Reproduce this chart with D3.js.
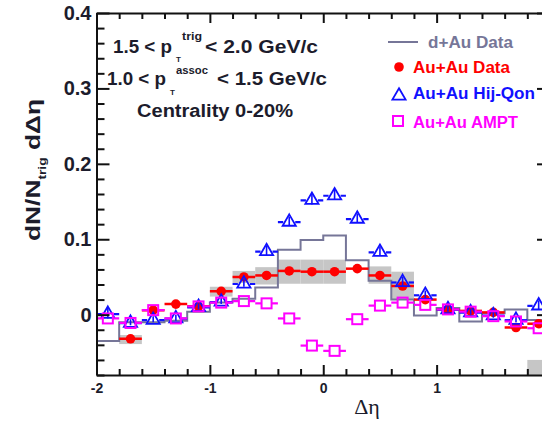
<!DOCTYPE html>
<html><head><meta charset="utf-8">
<script src="https://cdn.jsdelivr.net/npm/d3@7"></script>
<style>
html,body{margin:0;padding:0;background:#fff;overflow:hidden;}
svg{display:block;font-family:"Liberation Sans",Arial,sans-serif;}
</style></head>
<body><svg id="chart" width="542" height="421"></svg>
<script>
// ---- data ----
const binCenters = [-1.9,-1.7,-1.5,-1.3,-1.1,-0.9,-0.7,-0.5,-0.3,-0.1,0.1,0.3,0.5,0.7,0.9,1.1,1.3,1.5,1.7,1.9];
const binHalfWidth = 0.1;
const auauData = [null,-0.032,0.006,0.014,0.011,0.031,0.050,0.052,0.058,0.057,0.057,0.061,0.052,0.038,0.020,0.007,0.005,0.003,-0.017,-0.012];
const auauSysLow  = [null,-0.039,null,null,null,0.024,0.042,0.040,0.041,0.041,0.041,null,0.041,0.020,null,null,null,null,null,null];
const auauSysHigh = [null,-0.027,null,null,null,0.037,0.058,0.063,0.073,0.073,0.073,null,0.064,0.057,null,null,null,null,null,null];
const hijQon = [0.002,-0.010,-0.006,-0.004,0.011,0.018,0.042,0.085,0.124,0.153,0.159,0.128,0.084,0.044,0.027,0.008,0.004,0.000,-0.006,0.013];
const hijQonErr = [0.007,0.004,0.004,0.004,0.004,0.004,0.005,0.006,0.006,0.007,0.007,0.006,0.006,0.006,0.005,0.004,0.004,0.004,0.004,0.006];
const ampt = [-0.005,-0.011,0.006,-0.005,0.011,0.016,0.018,0.015,-0.005,-0.041,-0.048,-0.006,0.012,0.016,0.013,0.007,0.004,-0.002,-0.009,-0.018];
const dAu = [-0.035,-0.010,-0.010,-0.008,0.004,0.016,0.021,0.036,0.086,0.099,0.105,0.072,0.045,0.020,-0.001,0.009,-0.009,0.002,0.007,-0.007];
const scaleBoxX = [1.8, 2.0];
const scaleBoxY = [-0.08, -0.06];
const xMajorTicks = [-2,-1,0,1,2];
const xTickLabels = ["-2","-1","0","1",""];
const yMajorTicks = [0,0.1,0.2,0.3,0.4];
const yTickLabels = ["0","0.1","0.2","0.3","0.4"];
const legendLabels = ["d+Au Data","Au+Au Data","Au+Au Hij-Qon","Au+Au AMPT"];

// ---- layout ----
const svg = d3.select("#chart");
const X0 = 96.5, X1 = 550, Y0 = 375, Y1 = 13;
const x = d3.scaleLinear().domain([-2,2]).range([X0,X1]);
const y = d3.scaleLinear().domain([-0.08,0.4]).range([Y0,Y1]);
const RED="#ff0000", BLUE="#1010ff", MAG="#ff00ff", GRAYL="#767698", BOX="#c6c6c6", INK="#1c1c2c";

svg.append("defs").append("clipPath").attr("id","plotclip")
  .append("rect").attr("x",X0).attr("y",Y1).attr("width",X1-X0).attr("height",Y0-Y1);
const plot = svg.append("g").attr("clip-path","url(#plotclip)");

// systematic boxes
binCenters.forEach((c,i)=>{
  if(auauSysLow[i]==null) return;
  plot.append("rect").attr("x",x(c-binHalfWidth)).attr("width",x(c+binHalfWidth)-x(c-binHalfWidth))
    .attr("y",y(auauSysHigh[i])).attr("height",y(auauSysLow[i])-y(auauSysHigh[i])).attr("fill",BOX);
});
plot.append("rect").attr("x",x(scaleBoxX[0])).attr("width",x(scaleBoxX[1])-x(scaleBoxX[0]))
  .attr("y",y(scaleBoxY[1])).attr("height",y(scaleBoxY[0])-y(scaleBoxY[1])).attr("fill",BOX);

// d+Au step histogram
const stepPts = binCenters.map((c,i)=>[c-binHalfWidth,dAu[i]]);
stepPts.push([binCenters[binCenters.length-1]+binHalfWidth, dAu[dAu.length-1]]);
plot.append("path").datum(stepPts)
  .attr("d", d3.line().x(d=>x(d[0])).y(d=>y(d[1])).curve(d3.curveStepAfter))
  .attr("fill","none").attr("stroke",GRAYL).attr("stroke-width",2);

// Au+Au data (red)
const redG = plot.append("g");
binCenters.forEach((c,i)=>{
  const v = auauData[i]; if(v==null) return;
  redG.append("line").attr("x1",x(c-binHalfWidth)).attr("x2",x(c+binHalfWidth)).attr("y1",y(v)).attr("y2",y(v))
    .attr("stroke",RED).attr("stroke-width",2.5);
  redG.append("circle").attr("cx",x(c)).attr("cy",y(v)).attr("r",4.8).attr("fill",RED);
});

// Hij-Qon (blue open triangles)
const triPath = (s)=>`M0,${-s*0.62}L${s*0.6},${s*0.42}L${-s*0.6},${s*0.42}Z`;
const blueG = plot.append("g");
binCenters.forEach((c,i)=>{
  const v = hijQon[i], cx=x(c), cy=y(v);
  blueG.append("line").attr("x1",x(c-binHalfWidth)).attr("x2",cx-6).attr("y1",cy+1).attr("y2",cy+1).attr("stroke",BLUE).attr("stroke-width",2.2);
  blueG.append("line").attr("x1",cx+6).attr("x2",x(c+binHalfWidth)).attr("y1",cy+1).attr("y2",cy+1).attr("stroke",BLUE).attr("stroke-width",2.2);
  blueG.append("line").attr("x1",cx).attr("x2",cx).attr("y1",y(v+hijQonErr[i])).attr("y2",y(v-hijQonErr[i])).attr("stroke",BLUE).attr("stroke-width",1.6);
  blueG.append("path").attr("d",triPath(11)).attr("transform",`translate(${cx},${cy})`)
    .attr("fill","none").attr("stroke",BLUE).attr("stroke-width",1.8);
});

// AMPT (magenta open squares)
const magG = plot.append("g");
binCenters.forEach((c,i)=>{
  const v = ampt[i], cx=x(c), cy=y(v), h=5;
  magG.append("line").attr("x1",x(c-binHalfWidth)).attr("x2",cx-h).attr("y1",cy).attr("y2",cy).attr("stroke",MAG).attr("stroke-width",2.2);
  magG.append("line").attr("x1",cx+h).attr("x2",x(c+binHalfWidth)).attr("y1",cy).attr("y2",cy).attr("stroke",MAG).attr("stroke-width",2.2);
  magG.append("rect").attr("x",cx-h).attr("y",cy-h).attr("width",2*h).attr("height",2*h)
    .attr("fill","none").attr("stroke",MAG).attr("stroke-width",2);
});

// ---- axes (ticks inward) ----
const xMinor = d3.range(-2,2.001,0.2).map(d=>+d.toFixed(2)).filter(d=>!xMajorTicks.some(t=>Math.abs(t-d)<1e-6));
const yMinor = d3.range(-0.08,0.4001,0.02).map(d=>+d.toFixed(3)).filter(d=>!yMajorTicks.some(t=>Math.abs(t-d)<1e-6));
const fmtX = d=> xTickLabels[xMajorTicks.indexOf(d)];
const fmtY = d=> yTickLabels[yMajorTicks.indexOf(d)];

function styleAxis(g){ g.selectAll("path,line").attr("stroke","#111").attr("stroke-width",2); }

// bottom
svg.append("g").attr("transform",`translate(0,${Y0})`)
  .call(d3.axisBottom(x).tickValues(xMajorTicks).tickSize(-10).tickSizeOuter(0).tickPadding(8).tickFormat(fmtX))
  .call(styleAxis)
  .call(g=>g.selectAll("text").attr("font-size",14).attr("font-weight","bold").attr("fill",INK));
svg.append("g").attr("transform",`translate(0,${Y0})`)
  .call(d3.axisBottom(x).tickValues(xMinor).tickSize(-6).tickSizeOuter(0).tickFormat(""))
  .call(styleAxis).call(g=>g.select(".domain").remove());
// top
svg.append("g").attr("transform",`translate(0,${Y1})`)
  .call(d3.axisTop(x).tickValues(xMajorTicks).tickSize(-10).tickSizeOuter(0).tickFormat(""))
  .call(styleAxis);
svg.append("g").attr("transform",`translate(0,${Y1})`)
  .call(d3.axisTop(x).tickValues(xMinor).tickSize(-6).tickSizeOuter(0).tickFormat(""))
  .call(styleAxis).call(g=>g.select(".domain").remove());
// left
svg.append("g").attr("transform",`translate(${X0},0)`)
  .call(d3.axisLeft(y).tickValues(yMajorTicks).tickSize(-13).tickSizeOuter(0).tickPadding(5).tickFormat(fmtY))
  .call(styleAxis)
  .call(g=>g.selectAll("text").attr("font-size",20).attr("font-weight","bold").attr("fill",INK));
svg.append("g").attr("transform",`translate(${X0},0)`)
  .call(d3.axisLeft(y).tickValues(yMinor).tickSize(-8).tickSizeOuter(0).tickFormat(""))
  .call(styleAxis).call(g=>g.select(".domain").remove());
// right
svg.append("g").attr("transform",`translate(${X1},0)`)
  .call(d3.axisRight(y).tickValues(yMajorTicks).tickSize(-13).tickSizeOuter(0).tickFormat(""))
  .call(styleAxis);
svg.append("g").attr("transform",`translate(${X1},0)`)
  .call(d3.axisRight(y).tickValues(yMinor).tickSize(-8).tickSizeOuter(0).tickFormat(""))
  .call(styleAxis).call(g=>g.select(".domain").remove());

// axis titles
svg.append("text").attr("x",367).attr("y",414).attr("text-anchor","middle")
  .attr("font-family","'Liberation Serif','DejaVu Serif',serif").attr("font-size",22).attr("fill",INK).text("Δη");
const yl = svg.append("text").attr("transform","translate(40,170) rotate(-90)").attr("text-anchor","middle")
  .attr("font-size",21).attr("font-weight","bold").attr("fill",INK)
  .attr("textLength",142).attr("lengthAdjust","spacingAndGlyphs");
yl.append("tspan").text("dN/N");
yl.append("tspan").attr("font-size",11).attr("dy",6).text("trig");
yl.append("tspan").attr("dy",-6).text(" dΔη");

// annotations
function txt(xp,yp,s,size,len){
  const t = svg.append("text").attr("x",xp).attr("y",yp).attr("font-size",size).attr("font-weight","bold").attr("fill",INK).text(s);
  if(len) t.attr("textLength",len).attr("lengthAdjust","spacingAndGlyphs");
  return t;
}
txt(113,53,"1.5 < p",19,59);
txt(176,62,"T",8);
txt(182,40,"trig",11,20);
txt(205,53,"< 2.0 GeV/c",19,113);
txt(107,85,"1.0 < p",19,59);
txt(170,95,"T",8);
txt(176,74,"assoc",10,32);
txt(217,85,"< 1.5 GeV/c",19,110);
txt(137,117,"Centrality 0-20%",18,156);

// legend
const lg = svg.append("g");
lg.append("line").attr("x1",388).attr("x2",418).attr("y1",42).attr("y2",42).attr("stroke",GRAYL).attr("stroke-width",2);
lg.append("circle").attr("cx",399).attr("cy",67).attr("r",4.8).attr("fill",RED);
lg.append("path").attr("d",triPath(11)).attr("transform","translate(399,95)").attr("fill","none").attr("stroke",BLUE).attr("stroke-width",1.8);
lg.append("rect").attr("x",393).attr("y",116).attr("width",10).attr("height",10).attr("fill","none").attr("stroke",MAG).attr("stroke-width",2);
const legCols = [GRAYL,RED,BLUE,MAG];
const legX = [428,413,413,413], legY=[48,73,99,128], legLen=[85,97,122,105];
legendLabels.forEach((s,i)=>{
  lg.append("text").attr("x",legX[i]).attr("y",legY[i]).attr("font-size",16).attr("font-weight","bold")
    .attr("fill",legCols[i]).attr("textLength",legLen[i]).attr("lengthAdjust","spacingAndGlyphs").text(s);
});
</script></body></html>
